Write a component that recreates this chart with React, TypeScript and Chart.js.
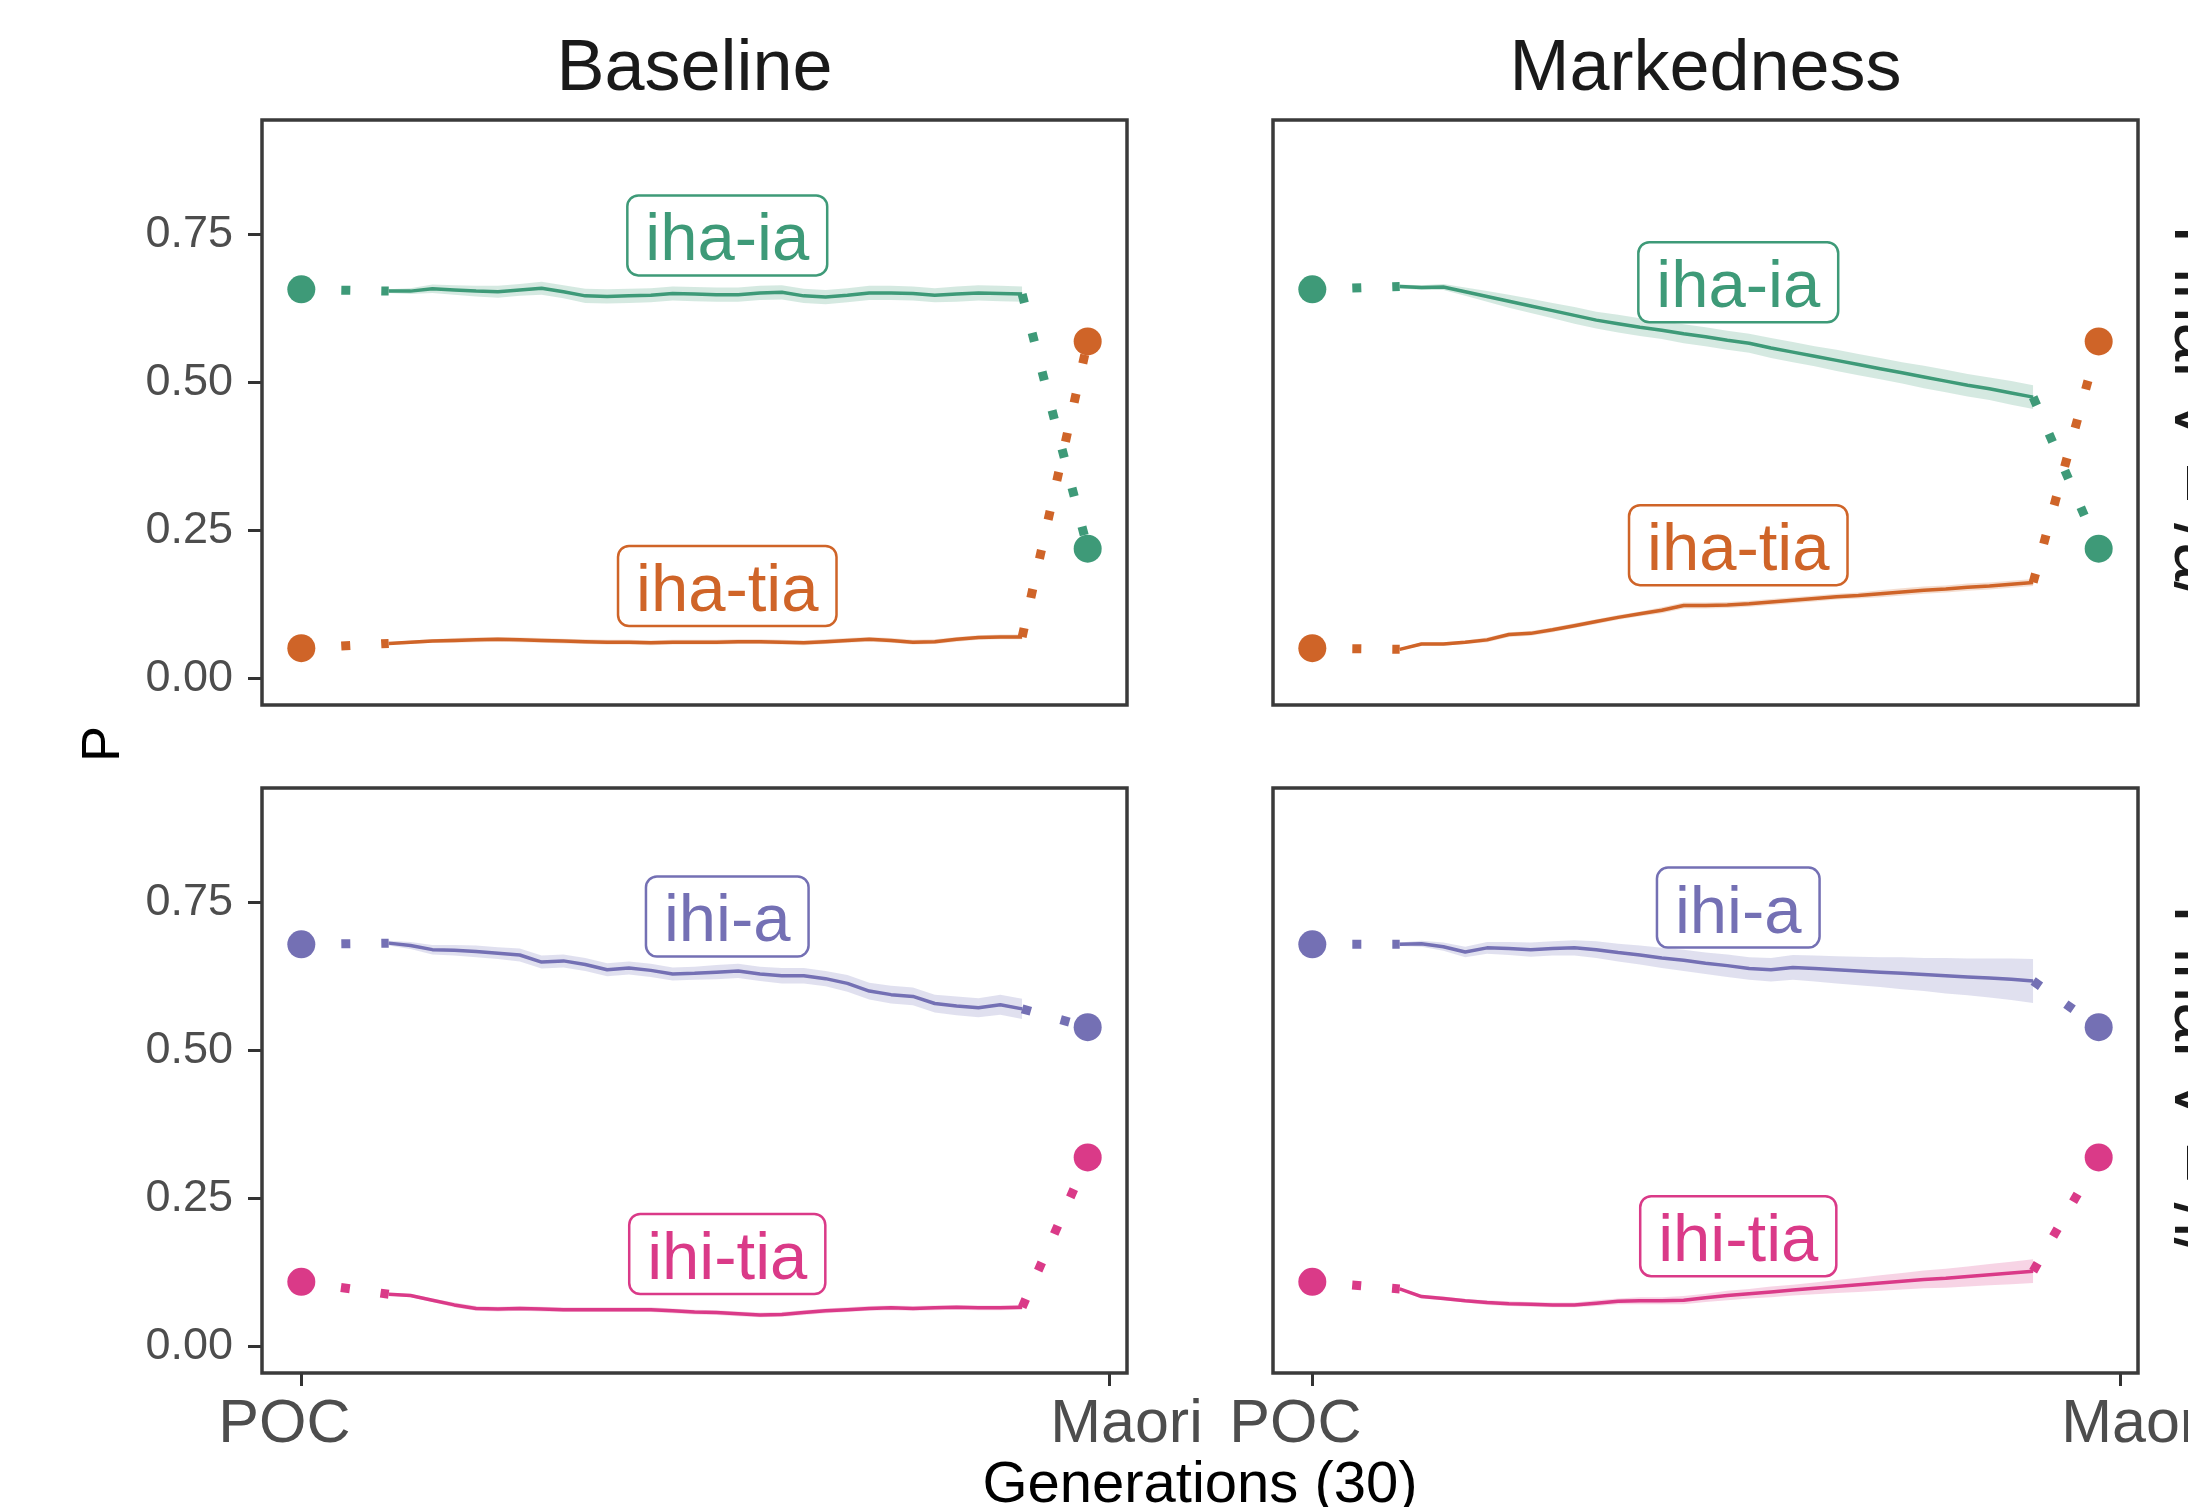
import React, { useEffect, useRef } from 'react';
import { Chart, registerables } from 'chart.js';

Chart.register(...registerables);

// ---------------- data ----------------
const GENERATIONS = [1, 2, 3, 4, 5, 6, 7, 8, 9, 10, 11, 12, 13, 14, 15, 16, 17, 18, 19, 20, 21, 22, 23, 24, 25, 26, 27, 28, 29, 30];
const POC_X = -3;
const MAORI_X = 33;
const X_TICK_VALUES = [-3, 34];
const X_TICK_LABELS = ['POC', 'Maori'];
const Y_TICK_VALUES = [0, 0.25, 0.5, 0.75];
const Y_TICK_LABELS = ['0.00', '0.25', '0.50', '0.75'];
const LABEL_X = 16.5;

const FACET_COLS = ['Baseline', 'Markedness'];
const FACET_ROWS = ['Final V = /a/', 'Final V = /i/'];
const X_TITLE = 'Generations (30)';
const Y_TITLE = 'P';

// Baseline, final /a/
const BASE_IHA_IA = [0.655, 0.655, 0.659, 0.657, 0.655, 0.654, 0.657, 0.660, 0.654, 0.647, 0.646, 0.647, 0.648, 0.651, 0.650, 0.649, 0.649, 0.652, 0.653, 0.647, 0.645, 0.648, 0.652, 0.652, 0.651, 0.648, 0.650, 0.652, 0.651, 0.650];
const BASE_IHA_IA_SE = [0.003, 0.005, 0.007, 0.008, 0.009, 0.010, 0.010, 0.011, 0.011, 0.012, 0.012, 0.012, 0.012, 0.012, 0.012, 0.012, 0.012, 0.012, 0.012, 0.012, 0.012, 0.012, 0.012, 0.012, 0.012, 0.012, 0.013, 0.013, 0.013, 0.013];
const BASE_IHA_TIA = [0.060, 0.062, 0.064, 0.065, 0.066, 0.067, 0.066, 0.065, 0.064, 0.063, 0.062, 0.062, 0.061, 0.062, 0.062, 0.062, 0.063, 0.063, 0.062, 0.061, 0.063, 0.065, 0.067, 0.065, 0.062, 0.063, 0.067, 0.070, 0.071, 0.071];
const BASE_IHA_TIA_SE = [0.002, 0.003, 0.003, 0.004, 0.004, 0.004, 0.004, 0.004, 0.004, 0.004, 0.004, 0.004, 0.004, 0.004, 0.004, 0.004, 0.004, 0.004, 0.004, 0.004, 0.004, 0.004, 0.004, 0.004, 0.004, 0.004, 0.004, 0.004, 0.004, 0.004];

// Markedness, final /a/
const MARK_IHA_IA = [0.663, 0.661, 0.662, 0.654, 0.646, 0.638, 0.630, 0.622, 0.614, 0.606, 0.600, 0.594, 0.589, 0.583, 0.578, 0.572, 0.567, 0.559, 0.552, 0.545, 0.538, 0.531, 0.524, 0.517, 0.510, 0.503, 0.496, 0.490, 0.483, 0.476];
const MARK_IHA_IA_SE = [0.003, 0.004, 0.005, 0.007, 0.009, 0.011, 0.012, 0.013, 0.014, 0.014, 0.015, 0.015, 0.015, 0.016, 0.016, 0.016, 0.016, 0.017, 0.017, 0.017, 0.018, 0.018, 0.018, 0.018, 0.019, 0.019, 0.019, 0.019, 0.020, 0.020];
const MARK_IHA_TIA = [0.050, 0.059, 0.059, 0.062, 0.066, 0.075, 0.077, 0.083, 0.090, 0.097, 0.104, 0.110, 0.116, 0.124, 0.124, 0.125, 0.127, 0.130, 0.133, 0.136, 0.139, 0.141, 0.144, 0.147, 0.150, 0.152, 0.155, 0.157, 0.160, 0.163];
const MARK_IHA_TIA_SE = [0.002, 0.003, 0.003, 0.003, 0.004, 0.004, 0.004, 0.004, 0.004, 0.004, 0.004, 0.004, 0.005, 0.005, 0.005, 0.005, 0.005, 0.005, 0.005, 0.005, 0.005, 0.005, 0.006, 0.006, 0.006, 0.006, 0.006, 0.006, 0.006, 0.006];

// Baseline, final /i/
const BASE_IHI_A = [0.682, 0.678, 0.671, 0.670, 0.668, 0.665, 0.662, 0.650, 0.652, 0.646, 0.637, 0.640, 0.636, 0.630, 0.631, 0.633, 0.635, 0.630, 0.627, 0.627, 0.622, 0.614, 0.601, 0.595, 0.592, 0.580, 0.576, 0.573, 0.578, 0.571];
const BASE_IHI_A_SE = [0.004, 0.006, 0.008, 0.009, 0.010, 0.010, 0.011, 0.011, 0.011, 0.011, 0.011, 0.011, 0.011, 0.011, 0.011, 0.012, 0.012, 0.012, 0.013, 0.013, 0.013, 0.014, 0.014, 0.015, 0.015, 0.015, 0.016, 0.016, 0.017, 0.017];
const BASE_IHI_TIA = [0.089, 0.087, 0.079, 0.071, 0.065, 0.064, 0.065, 0.064, 0.063, 0.063, 0.063, 0.063, 0.063, 0.061, 0.059, 0.058, 0.056, 0.054, 0.055, 0.058, 0.061, 0.063, 0.065, 0.066, 0.065, 0.066, 0.067, 0.066, 0.066, 0.067];
const BASE_IHI_TIA_SE = [0.002, 0.003, 0.003, 0.004, 0.004, 0.004, 0.004, 0.004, 0.004, 0.004, 0.004, 0.004, 0.004, 0.004, 0.004, 0.004, 0.004, 0.004, 0.004, 0.004, 0.004, 0.004, 0.004, 0.004, 0.004, 0.004, 0.004, 0.004, 0.004, 0.004];

// Markedness, final /i/
const MARK_IHI_A = [0.680, 0.681, 0.676, 0.667, 0.674, 0.673, 0.671, 0.673, 0.674, 0.671, 0.666, 0.662, 0.657, 0.653, 0.648, 0.644, 0.639, 0.637, 0.641, 0.639, 0.637, 0.635, 0.633, 0.631, 0.629, 0.627, 0.625, 0.623, 0.621, 0.618];
const MARK_IHI_A_SE = [0.003, 0.005, 0.007, 0.009, 0.010, 0.011, 0.012, 0.012, 0.013, 0.014, 0.015, 0.016, 0.017, 0.018, 0.018, 0.019, 0.019, 0.020, 0.021, 0.022, 0.023, 0.024, 0.025, 0.027, 0.028, 0.030, 0.031, 0.033, 0.035, 0.037];
const MARK_IHI_TIA = [0.098, 0.085, 0.082, 0.078, 0.075, 0.073, 0.072, 0.071, 0.071, 0.074, 0.077, 0.078, 0.078, 0.079, 0.083, 0.087, 0.090, 0.093, 0.096, 0.099, 0.102, 0.105, 0.108, 0.111, 0.114, 0.116, 0.119, 0.122, 0.125, 0.128];
const MARK_IHI_TIA_SE = [0.002, 0.003, 0.003, 0.003, 0.004, 0.004, 0.004, 0.004, 0.004, 0.005, 0.005, 0.006, 0.006, 0.007, 0.007, 0.008, 0.008, 0.009, 0.009, 0.010, 0.011, 0.012, 0.013, 0.014, 0.015, 0.016, 0.017, 0.018, 0.019, 0.020];

// endpoints (POC source, Maori target)
const POC_VALUES = { 'iha-ia': 0.658, 'iha-tia': 0.052, 'ihi-a': 0.680, 'ihi-tia': 0.110 };
const MAORI_VALUES = { 'iha-ia': 0.220, 'iha-tia': 0.570, 'ihi-a': 0.540, 'ihi-tia': 0.320 };

// label positions (y in data units, x = LABEL_X)
const LABEL_Y_BASE_A = { 'iha-ia': 0.749, 'iha-tia': 0.157 };
const LABEL_Y_MARK_A = { 'iha-ia': 0.670, 'iha-tia': 0.226 };
const LABEL_Y_BASE_I = { 'ihi-a': 0.727, 'ihi-tia': 0.157 };
const LABEL_Y_MARK_I = { 'ihi-a': 0.742, 'ihi-tia': 0.187 };

const COLORS = { 'iha-ia': [62, 154, 120], 'iha-tia': [207, 100, 40], 'ihi-a': [116, 112, 180], 'ihi-tia': [218, 58, 136] };

// ---------------- layout ----------------
const FONT = '"Liberation Sans", Arial, Helvetica, sans-serif';
const PANEL_LEFT = [262, 1273];
const PANEL_TOP = [120, 788];
const PANEL_W = 865;
const PANEL_H = 585;
const Y_AXIS_W = 262;
const PAD_TOP = 20;
const PAD_RIGHT = 100;
const X_AXIS_H = 133;
const X_MIN = POC_X - 0.05 * (MAORI_X - POC_X);
const X_MAX = MAORI_X + 0.05 * (MAORI_X - POC_X);
const Y_MIN = -0.044;
const Y_MAX = 0.944;

type SeriesCfg = { name: string; values: number[]; se: number[]; labelY: number };
type PanelCfg = { col: number; row: number; series: SeriesCfg[] };

const PANELS: PanelCfg[] = [
  { col: 0, row: 0, series: [
    { name: 'iha-ia', values: BASE_IHA_IA, se: BASE_IHA_IA_SE, labelY: LABEL_Y_BASE_A['iha-ia'] },
    { name: 'iha-tia', values: BASE_IHA_TIA, se: BASE_IHA_TIA_SE, labelY: LABEL_Y_BASE_A['iha-tia'] },
  ] },
  { col: 1, row: 0, series: [
    { name: 'iha-ia', values: MARK_IHA_IA, se: MARK_IHA_IA_SE, labelY: LABEL_Y_MARK_A['iha-ia'] },
    { name: 'iha-tia', values: MARK_IHA_TIA, se: MARK_IHA_TIA_SE, labelY: LABEL_Y_MARK_A['iha-tia'] },
  ] },
  { col: 0, row: 1, series: [
    { name: 'ihi-a', values: BASE_IHI_A, se: BASE_IHI_A_SE, labelY: LABEL_Y_BASE_I['ihi-a'] },
    { name: 'ihi-tia', values: BASE_IHI_TIA, se: BASE_IHI_TIA_SE, labelY: LABEL_Y_BASE_I['ihi-tia'] },
  ] },
  { col: 1, row: 1, series: [
    { name: 'ihi-a', values: MARK_IHI_A, se: MARK_IHI_A_SE, labelY: LABEL_Y_MARK_I['ihi-a'] },
    { name: 'ihi-tia', values: MARK_IHI_TIA, se: MARK_IHI_TIA_SE, labelY: LABEL_Y_MARK_I['ihi-tia'] },
  ] },
];

const rgb = (c: number[], a = 1) => `rgba(${c[0]},${c[1]},${c[2]},${a})`;

function roundRectPath(ctx: CanvasRenderingContext2D, x: number, y: number, w: number, h: number, r: number) {
  ctx.beginPath();
  ctx.moveTo(x + r, y);
  ctx.lineTo(x + w - r, y);
  ctx.arcTo(x + w, y, x + w, y + r, r);
  ctx.lineTo(x + w, y + h - r);
  ctx.arcTo(x + w, y + h, x + w - r, y + h, r);
  ctx.lineTo(x + r, y + h);
  ctx.arcTo(x, y + h, x, y + h - r, r);
  ctx.lineTo(x, y + r);
  ctx.arcTo(x, y, x + r, y, r);
  ctx.closePath();
}

function Panel({ cfg }: { cfg: PanelCfg }) {
  const ref = useRef<HTMLCanvasElement | null>(null);
  const showX = cfg.row === 1;
  const showY = cfg.col === 0;
  const width = Y_AXIS_W + PANEL_W + PAD_RIGHT;
  const height = PAD_TOP + PANEL_H + X_AXIS_H;
  const left = PANEL_LEFT[cfg.col] - Y_AXIS_W;
  const top = PANEL_TOP[cfg.row] - PAD_TOP;

  useEffect(() => {
    const canvas = ref.current;
    if (!canvas) return;
    const datasets: any[] = [];
    cfg.series.forEach((s) => {
      const col = COLORS[s.name as keyof typeof COLORS];
      const poc = POC_VALUES[s.name as keyof typeof POC_VALUES];
      const maori = MAORI_VALUES[s.name as keyof typeof MAORI_VALUES];
      const n = GENERATIONS.length;
      datasets.push({
        data: GENERATIONS.map((g, i) => ({ x: g, y: s.values[i] - s.se[i] })),
        borderWidth: 0, pointRadius: 0, fill: false, order: 5,
      });
      datasets.push({
        data: GENERATIONS.map((g, i) => ({ x: g, y: s.values[i] + s.se[i] })),
        borderWidth: 0, pointRadius: 0, fill: '-1', backgroundColor: rgb(col, 0.22), order: 5,
      });
      datasets.push({
        data: GENERATIONS.map((g, i) => ({ x: g, y: s.values[i] })),
        borderColor: rgb(col), borderWidth: 3.5, pointRadius: 0, fill: false, order: 3,
        borderJoinStyle: 'round', borderCapStyle: 'butt',
      });
      datasets.push({
        data: [{ x: POC_X, y: poc }, { x: GENERATIONS[0], y: s.values[0] }],
        borderColor: rgb(col), borderWidth: 9, borderDash: [9, 31], borderCapStyle: 'butt',
        pointRadius: 0, fill: false, order: 2,
      });
      datasets.push({
        data: [{ x: GENERATIONS[n - 1], y: s.values[n - 1] }, { x: MAORI_X, y: maori }],
        borderColor: rgb(col), borderWidth: 9, borderDash: [9, 31], borderCapStyle: 'butt',
        pointRadius: 0, fill: false, order: 2,
      });
      datasets.push({
        data: [{ x: POC_X, y: poc }, { x: MAORI_X, y: maori }],
        showLine: false, pointRadius: 14, pointBorderWidth: 0,
        pointBackgroundColor: rgb(col), pointBorderColor: rgb(col), order: 1,
      });
    });

    const decor = {
      id: 'panelDecor',
      afterDatasetsDraw(chart: any) {
        const ctx: CanvasRenderingContext2D = chart.ctx;
        const xs = chart.scales.x;
        const ys = chart.scales.y;
        const a = chart.chartArea;
        ctx.save();
        cfg.series.forEach((s) => {
          const col = COLORS[s.name as keyof typeof COLORS];
          const cx = xs.getPixelForValue(LABEL_X);
          const cy = ys.getPixelForValue(s.labelY);
          ctx.font = `67px ${FONT}`;
          const tw = ctx.measureText(s.name).width;
          const w = tw + 36;
          const h = 80;
          roundRectPath(ctx, cx - w / 2, cy - h / 2, w, h, 11);
          ctx.fillStyle = '#ffffff';
          ctx.fill();
          ctx.lineWidth = 2.5;
          ctx.strokeStyle = rgb(col);
          ctx.stroke();
          ctx.fillStyle = rgb(col);
          ctx.textAlign = 'center';
          ctx.textBaseline = 'alphabetic';
          ctx.fillText(s.name, cx, cy + 25);
        });
        ctx.lineWidth = 3.5;
        ctx.strokeStyle = '#3a3a3a';
        ctx.strokeRect(a.left, a.top, a.right - a.left, a.bottom - a.top);
        ctx.restore();
      },
    };

    const chart = new Chart(canvas, {
      type: 'line',
      data: { datasets },
      options: {
        animation: false,
        responsive: false,
        maintainAspectRatio: false,
        events: [],
        layout: { padding: { left: 0, top: PAD_TOP, right: PAD_RIGHT, bottom: 0 } },
        elements: { line: { tension: 0 } },
        plugins: { legend: { display: false }, tooltip: { enabled: false } },
        scales: {
          x: {
            type: 'linear',
            min: X_MIN,
            max: X_MAX,
            afterBuildTicks: (sc: any) => { sc.ticks = X_TICK_VALUES.map((v) => ({ value: v })); },
            afterFit: (sc: any) => {
              sc.height = X_AXIS_H;
              sc.paddingLeft = 0; sc.paddingRight = 0; sc.paddingTop = 0; sc.paddingBottom = 0;
            },
            ticks: {
              display: showX,
              autoSkip: false,
              maxRotation: 0,
              minRotation: 0,
              padding: 3,
              color: '#4D4D4D',
              font: { family: FONT, size: 61 },
              callback: (_v: any, i: number) => (i === 0 ? X_TICK_LABELS[0] + '  ' : '  ' + X_TICK_LABELS[1]),
            },
            grid: { display: showX, drawOnChartArea: false, drawTicks: true, tickLength: 13, lineWidth: 3, color: '#333333' },
            border: { display: false },
          },
          y: {
            type: 'linear',
            min: Y_MIN,
            max: Y_MAX,
            afterBuildTicks: (sc: any) => { sc.ticks = Y_TICK_VALUES.map((v) => ({ value: v })); },
            afterFit: (sc: any) => {
              sc.width = Y_AXIS_W;
              sc.paddingLeft = 0; sc.paddingRight = 0; sc.paddingTop = 0; sc.paddingBottom = 0;
            },
            ticks: {
              display: showY,
              padding: 15,
              color: '#4D4D4D',
              font: { family: FONT, size: 45 },
              callback: (_v: any, i: number) => Y_TICK_LABELS[i],
            },
            grid: { display: showY, drawOnChartArea: false, drawTicks: true, tickLength: 14, lineWidth: 3, color: '#333333' },
            border: { display: false },
          },
        },
      } as any,
      plugins: [decor],
    });
    return () => chart.destroy();
  }, [cfg]);

  return (
    <canvas
      ref={ref}
      width={width}
      height={height}
      style={{ position: 'absolute', left, top, width, height }}
    />
  );
}

function Text({ text, cx, baseline, size, color }: { text: string; cx: number; baseline: number; size: number; color: string }) {
  return (
    <div style={{ position: 'absolute', left: cx, top: baseline - 0.8465 * size, transform: 'translateX(-50%)', fontSize: size, lineHeight: `${size}px`, whiteSpace: 'nowrap', color, fontFamily: FONT }}>
      {text}
    </div>
  );
}

function RotText({ text, cx, cy, size, color, deg }: { text: string; cx: number; cy: number; size: number; color: string; deg: number }) {
  return (
    <div style={{ position: 'absolute', left: cx, top: cy, transform: `translate(-50%, -50%) rotate(${deg}deg)`, fontSize: size, lineHeight: `${size}px`, whiteSpace: 'nowrap', color, fontFamily: FONT }}>
      {text}
    </div>
  );
}

export default function App() {
  const stripSize = 70;
  return (
    <div style={{ position: 'absolute', left: 0, top: 0, width: 2188, height: 1507, overflow: 'hidden', background: '#ffffff', fontFamily: FONT }}>
      {PANELS.map((p) => (
        <Panel key={`${p.col}-${p.row}`} cfg={p} />
      ))}
      <Text text={FACET_COLS[0]} cx={PANEL_LEFT[0] + PANEL_W / 2} baseline={90} size={72} color="#1a1a1a" />
      <Text text={FACET_COLS[1]} cx={PANEL_LEFT[1] + PANEL_W / 2} baseline={90} size={72} color="#1a1a1a" />
      <RotText text={FACET_ROWS[0]} cx={2175 + 0.3465 * stripSize} cy={PANEL_TOP[0] + PANEL_H / 2} size={stripSize} color="#1a1a1a" deg={90} />
      <RotText text={FACET_ROWS[1]} cx={2175 + 0.3465 * stripSize} cy={PANEL_TOP[1] + PANEL_H / 2} size={stripSize} color="#1a1a1a" deg={90} />
      <RotText text={Y_TITLE} cx={118.6 - 0.3465 * 54} cy={744} size={54} color="#000000" deg={-90} />
      <Text text={X_TITLE} cx={(PANEL_LEFT[0] + PANEL_LEFT[1] + PANEL_W) / 2} baseline={1502} size={58} color="#000000" />
    </div>
  );
}
